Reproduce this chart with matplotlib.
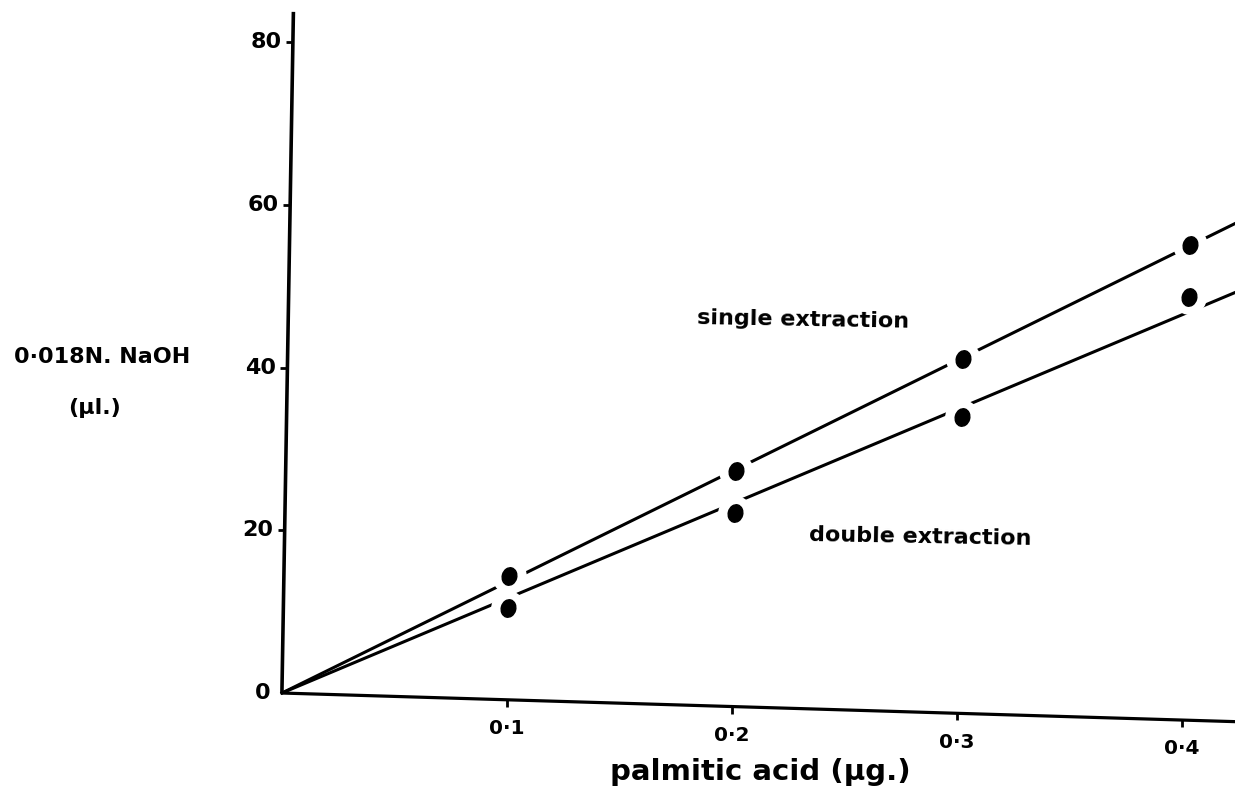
import matplotlib
matplotlib.use('Agg')
import matplotlib.pyplot as plt
import matplotlib.transforms as mtransforms
import matplotlib.path as mpath
import numpy as np

# titre of 0.018N NaOH against amount of palmitic acid
acid = [0.1, 0.2, 0.3, 0.4]
single = [15.2, 28.9, 43.5, 58.4]
double = [11.3, 23.8, 36.4, 52.0]

x_ticks = [0.1, 0.2, 0.3, 0.4]
x_ticklabels = ['0·1', '0·2', '0·3', '0·4']
y_ticks = [0, 20, 40, 60, 80]
y_ticklabels = ['0', '20', '40', '60', '80']

plt.rcParams['font.family'] = ['DejaVu Sans']

fig = plt.figure(figsize=(12.35, 7.95), dpi=100)
ax = fig.add_axes([0, 0, 1, 1])
ax.set_xlim(-0.1253, 0.4236)
ax.set_ylim(-12.53, 85.16)
ax.axis('off')

# the printed axes sit a little askew on the page
shear = mtransforms.Affine2D(np.array([[1.0, 6.1e-5, 0.0],
                                       [-8.3, 1.0, 0.0],
                                       [0.0, 0.0, 1.0]]))
tr = shear + ax.transData

# axis lines and tick marks
ax.plot([0, 0], [0, 83.7], color='k', lw=2.6, transform=tr, solid_capstyle='butt')
ax.plot([0, 0.45], [0, 0], color='k', lw=2.3, transform=tr, solid_capstyle='butt')
ax.plot(np.zeros(len(y_ticks) - 1), y_ticks[1:], ls='none', marker=0, ms=5, mew=2,
        color='k', transform=tr)
ax.plot(x_ticks, np.zeros(len(x_ticks)), ls='none', marker=3, ms=5, mew=2,
        color='k', transform=tr)

for y, lab in zip(y_ticks, y_ticklabels):
    ax.annotate(lab, xy=(0, y), xycoords=tr, xytext=(-8, 0), textcoords='offset points',
                ha='right', va='center', fontsize=16, fontweight='bold')
for x, lab in zip(x_ticks, x_ticklabels):
    ax.annotate(lab, xy=(x, 0), xycoords=tr, xytext=(0, -14), textcoords='offset points',
                ha='center', va='top', fontsize=14.5, fontweight='bold')

# slightly oval blobs for the points
dot = mpath.Path.unit_circle().transformed(
    mtransforms.Affine2D().scale(0.82, 1.0).rotate_deg(-15))

# least-squares lines through the origin, broken around each point
for vals in (single, double):
    k = np.dot(acid, vals) / np.dot(acid, acid)
    xs = np.array([0, 0.45])
    ax.plot(xs, k * xs, color='k', lw=2.2, transform=tr, zorder=2)
    ax.plot(acid, vals, ls='none', marker='o', ms=25, mfc='white', mec='none',
            transform=tr, zorder=3)
    ax.plot(acid, vals, ls='none', marker=dot, ms=13, mfc='k', mec='k',
            transform=tr, zorder=4)

W, H = 1235, 795
fig.text(803 / W, 1 - 320 / H, 'single extraction', ha='center', va='center',
         fontsize=16, fontweight='bold', rotation=-1)
fig.text(920 / W, 1 - 537 / H, 'double extraction', ha='center', va='center',
         fontsize=16, fontweight='bold', rotation=-1)
fig.text(102 / W, 1 - 357 / H, '0·018N. NaOH', ha='center', va='center',
         fontsize=16, fontweight='bold')
fig.text(95 / W, 1 - 408 / H, '(µl.)', ha='center', va='center',
         fontsize=16, fontweight='bold')
fig.text(760 / W, 1 - 772 / H, 'palmitic acid (µg.)', ha='center', va='center',
         fontsize=21, fontweight='bold')

fig.savefig('out.png', dpi=100, facecolor='white')
